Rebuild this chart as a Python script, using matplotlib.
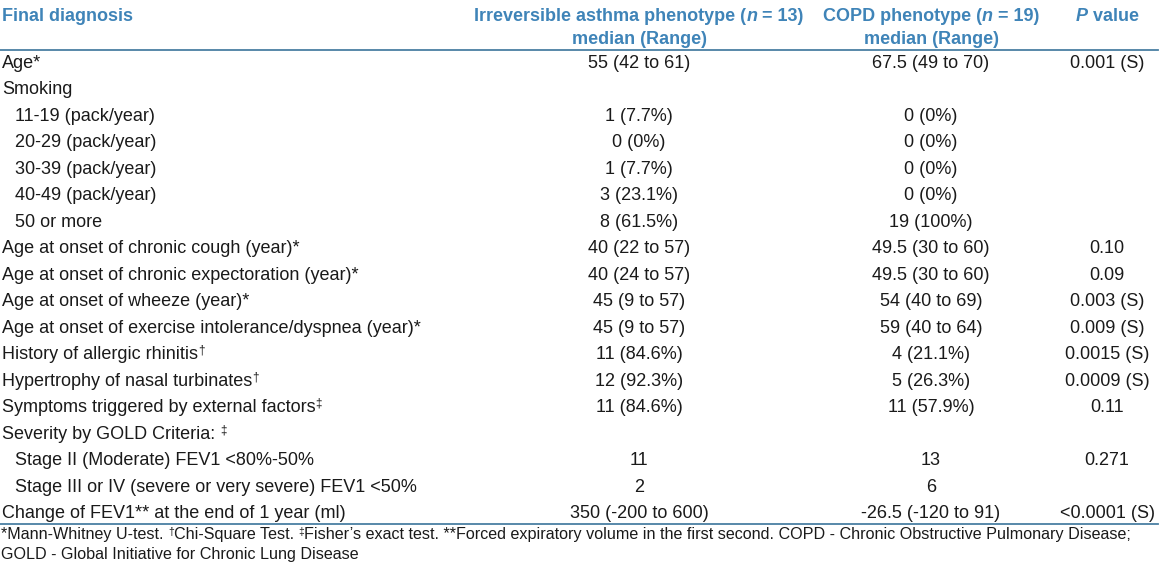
import matplotlib
matplotlib.use("Agg")
import matplotlib.pyplot as plt

plt.rcParams['font.family'] = ['Liberation Sans', 'DejaVu Sans']

# ---- data ----
header_col0 = "Final diagnosis"
header_col1 = [("Irreversible asthma phenotype (", "normal"), ("n", "italic"), (" = 13)", "normal")]
header_col1b = "median (Range)"
header_col2 = [("COPD phenotype (", "normal"), ("n", "italic"), (" = 19)", "normal")]
header_col2b = "median (Range)"
header_col3 = [("P", "italic"), (" value", "normal")]

labels = [
    "Age*", "Smoking", "11-19 (pack/year)", "20-29 (pack/year)", "30-39 (pack/year)",
    "40-49 (pack/year)", "50 or more", "Age at onset of chronic cough (year)*",
    "Age at onset of chronic expectoration (year)*", "Age at onset of wheeze (year)*",
    "Age at onset of exercise intolerance/dyspnea (year)*", "History of allergic rhinitis",
    "Hypertrophy of nasal turbinates", "Symptoms triggered by external factors",
    "Severity by GOLD Criteria: ", "Stage II (Moderate) FEV1 <80%-50%",
    "Stage III or IV (severe or very severe) FEV1 <50%",
    "Change of FEV1** at the end of 1 year (ml)",
]
label_marks = ["", "", "", "", "", "", "", "", "", "", "", "\u2020", "\u2020", "\u2021",
               "\u2021", "", "", ""]
label_level = [0, 0, 1, 1, 1, 1, 1, 0, 0, 0, 0, 0, 0, 0, 0, 1, 1, 0]
col_asthma = ["55 (42 to 61)", "", "1 (7.7%)", "0 (0%)", "1 (7.7%)", "3 (23.1%)",
              "8 (61.5%)", "40 (22 to 57)", "40 (24 to 57)", "45 (9 to 57)",
              "45 (9 to 57)", "11 (84.6%)", "12 (92.3%)", "11 (84.6%)", "", "11", "2",
              "350 (-200 to 600)"]
col_copd = ["67.5 (49 to 70)", "", "0 (0%)", "0 (0%)", "0 (0%)", "0 (0%)", "19 (100%)",
            "49.5 (30 to 60)", "49.5 (30 to 60)", "54 (40 to 69)", "59 (40 to 64)",
            "4 (21.1%)", "5 (26.3%)", "11 (57.9%)", "", "13", "6", "-26.5 (-120 to 91)"]
col_p = ["0.001 (S)", "", "", "", "", "", "", "0.10", "0.09", "0.003 (S)", "0.009 (S)",
         "0.0015 (S)", "0.0009 (S)", "0.11", "", "0.271", "", "<0.0001 (S)"]
footnote1 = [("*Mann-Whitney U-test. ", False), ("\u2020", True), ("Chi-Square Test. ", False),
             ("\u2021", True),
             ("Fisher\u2019s exact test. **Forced expiratory volume in the first second. "
              "COPD - Chronic Obstructive Pulmonary Disease;", False)]
footnote2 = "GOLD - Global Initiative for Chronic Lung Disease"

# ---- style ----
W, H = 1159, 567
BLUE = '#3f84b8'
RULE = '#4a7fa3'
TXT = '#1a1a1a'
FS = 13
FN = 11.6

fig = plt.figure(figsize=(W / 100, H / 100), dpi=100)
ax = fig.add_axes([0, 0, 1, 1])
ax.set_xlim(0, W)
ax.set_ylim(H, 0)
ax.axis('off')
renderer = fig.canvas.get_renderer()


def runs(x, y, parts, ha='left', color=TXT):
    """parts: list of (text, kwargs, dy). Draw sequentially; return end x."""
    items = []
    total = 0
    for text, kw, dy in parts:
        t = ax.text(0, 0, text, va='baseline', ha='left', color=color, **kw)
        w = t.get_window_extent(renderer).width
        items.append((t, w, dy))
        total += w
    if ha == 'center':
        x = x - total / 2
    for t, w, dy in items:
        t.set_position((x, y - dy))
        x += w
    return x


cx = [639, 931, 1107]

# header
ax.text(2, 21, header_col0, fontsize=FS, fontweight='bold', color=BLUE, va='baseline')
for c, parts in zip(cx, [header_col1, header_col2, header_col3]):
    runs(c, 21, [(t, dict(fontsize=FS, fontweight='bold', fontstyle=s), 0) for t, s in parts],
         ha='center', color=BLUE)
for c, t in zip(cx[:2], [header_col1b, header_col2b]):
    ax.text(c, 44.5, t, fontsize=FS, fontweight='bold', color=BLUE, va='baseline', ha='center')

ax.plot([0, 1158], [50, 50], color=RULE, lw=1.3)

# body
y0, dy = 68, 26.47
for i, lab in enumerate(labels):
    y = y0 + dy * i
    x = 2 if label_level[i] == 0 else 15
    parts = [(lab, dict(fontsize=FS), 0)]
    if label_marks[i]:
        parts.append((label_marks[i], dict(fontsize=8.5), 5.5))
    runs(x, y, parts)
    for c, v in zip(cx, [col_asthma[i], col_copd[i], col_p[i]]):
        if v:
            ax.text(c, y, v, fontsize=FS, color=TXT, va='baseline', ha='center')

ax.plot([0, 1158], [524, 524], color=RULE, lw=1.3)

# footnotes
runs(1, 539.5, [(t, dict(fontsize=7.5 if sup else FN), 5 if sup else 0) for t, sup in footnote1])
ax.text(1, 559, footnote2, fontsize=FN, color=TXT, va='baseline')

fig.savefig('out.png', dpi=100, facecolor='white')
